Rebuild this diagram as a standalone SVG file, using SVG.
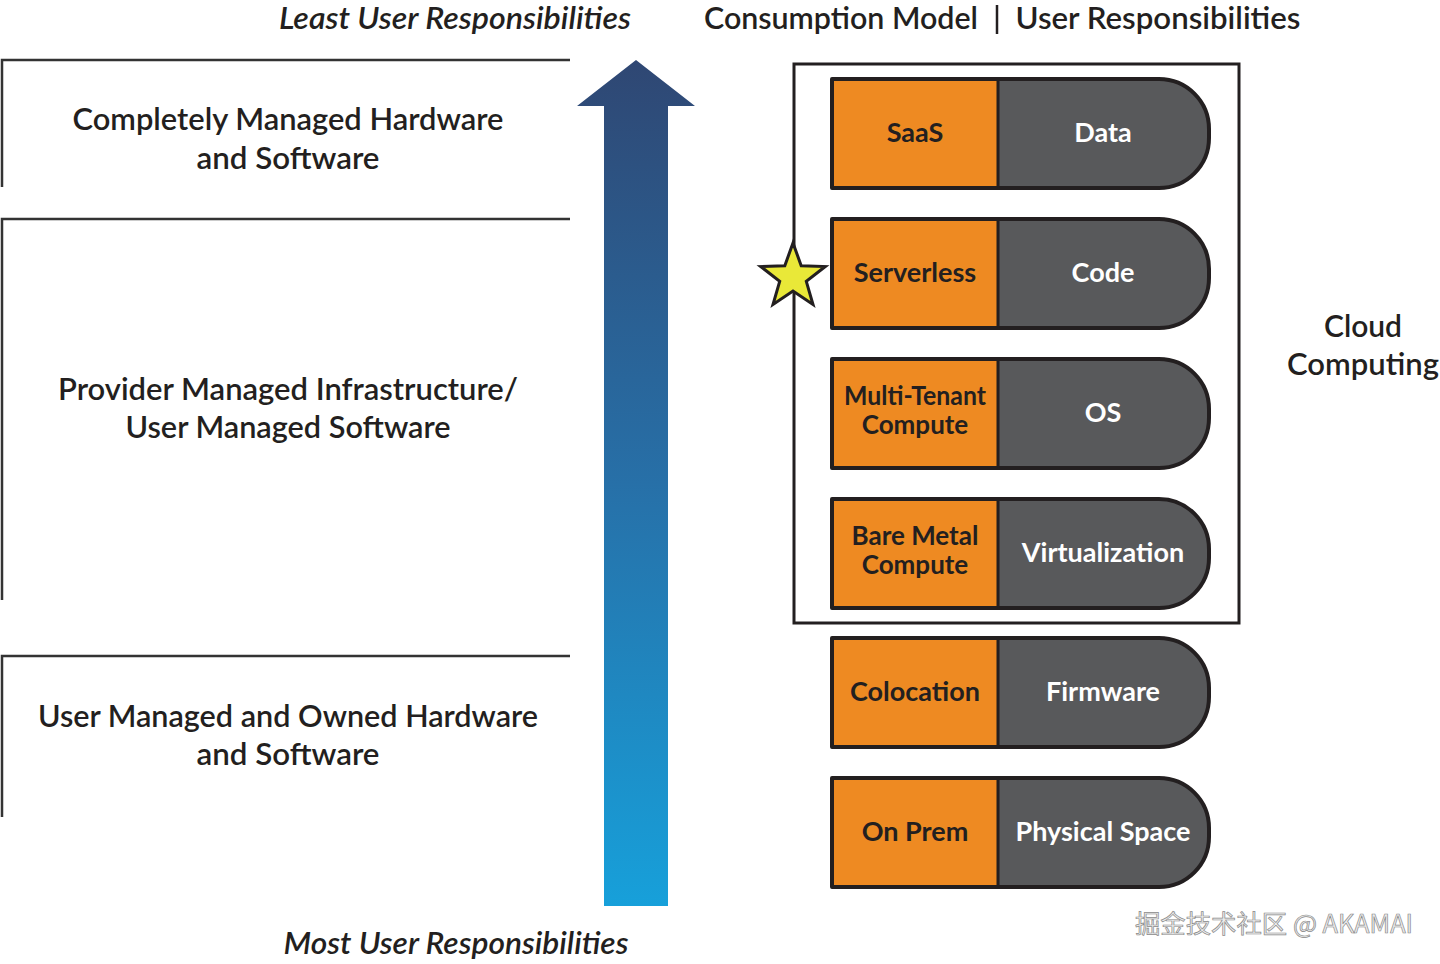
<svg xmlns="http://www.w3.org/2000/svg" width="1440" height="964" viewBox="0 0 1440 964">
<defs>
<linearGradient id="arrowGrad" x1="0" y1="0" x2="0" y2="1">
<stop offset="0" stop-color="#2f4773"/>
<stop offset="0.5" stop-color="#2770a8"/>
<stop offset="1" stop-color="#17a0da"/>
</linearGradient>
<style>
.t{font-family:Lato,"Noto Sans","Liberation Sans",sans-serif;font-weight:700;fill:#231f20;text-anchor:middle}
.h{font-size:30px;font-weight:600}
.i{font-style:italic}
.pl{font-size:27px}
.pl2{font-size:26px}
.pw{fill:#ffffff}
.br{fill:none;stroke:#333333;stroke-width:2.5}
.pillg{fill:#58595b}
.pillo{fill:#ee8a22}
.pillst{fill:none;stroke:#231f20;stroke-width:4;stroke-linejoin:round}
.wm{font-family:"Noto Sans CJK SC","Noto Sans",sans-serif;font-size:25px;fill:#ededed;stroke:#8a8a8a;stroke-width:0.7;text-anchor:start}
</style>
<path id="pill" d="M0,0 H327 A50,50 0 0 1 377,50 V59 A50,50 0 0 1 327,109 H0 Z"/>
</defs>
<rect x="0" y="0" width="1440" height="964" fill="#ffffff"/>

<g id="header-least">
<text class="t h i" x="455" y="29" textLength="352" lengthAdjust="spacingAndGlyphs">Least User Responsibilities</text>
</g>
<g id="header-model">
<text class="t h" x="841" y="29" textLength="274" lengthAdjust="spacingAndGlyphs">Consumption Model</text>
<line x1="997" y1="5" x2="997" y2="34" stroke="#231f20" stroke-width="2.5"/>
<text class="t h" x="1158" y="29" textLength="285" lengthAdjust="spacingAndGlyphs">User Responsibilities</text>
</g>

<g id="tier-top">
<path class="br" d="M570,60 H2 V187"/>
<text class="t h" x="288" y="130" textLength="431" lengthAdjust="spacingAndGlyphs">Completely Managed Hardware</text>
<text class="t h" x="288" y="169" textLength="183" lengthAdjust="spacingAndGlyphs">and Software</text>
</g>
<g id="tier-mid">
<path class="br" d="M570,219 H2 V600"/>
<text class="t h" x="288" y="400" textLength="460" lengthAdjust="spacingAndGlyphs">Provider Managed Infrastructure/</text>
<text class="t h" x="288" y="438" textLength="325" lengthAdjust="spacingAndGlyphs">User Managed Software</text>
</g>
<g id="tier-bottom">
<path class="br" d="M570,656 H2 V817"/>
<text class="t h" x="288" y="727" textLength="500" lengthAdjust="spacingAndGlyphs">User Managed and Owned Hardware</text>
<text class="t h" x="288" y="765" textLength="183" lengthAdjust="spacingAndGlyphs">and Software</text>
</g>

<g id="arrow">
<path d="M636,60 L695,106 H668 V906 H604 V106 H577 Z" fill="url(#arrowGrad)"/>
</g>

<g id="footer-most">
<text class="t h i" x="456" y="954" textLength="345" lengthAdjust="spacingAndGlyphs">Most User Responsibilities</text>
</g>

<g id="cloud-box">
<rect x="794" y="64" width="445" height="559" fill="none" stroke="#231f20" stroke-width="3"/>
</g>
<g id="cloud-label">
<text class="t h" x="1363" y="337">Cloud</text>
<text class="t h" x="1363" y="375" textLength="152" lengthAdjust="spacingAndGlyphs">Computing</text>
</g>

<g id="star">
<polygon points="793,243 801.2,265.7 825.3,266.5 806.3,281.3 813,304.5 793,291 773,304.5 779.7,281.3 760.7,266.5 784.8,265.7" fill="#e9e838" stroke="#231f20" stroke-width="3" stroke-linejoin="miter"/>
</g>

<g id="connectors"></g>

<g id="row-saas" transform="translate(832,79)">
<use href="#pill" class="pillg"/>
<rect class="pillo" x="0" y="0" width="166" height="109"/>
<line x1="166" y1="0" x2="166" y2="109" stroke="#231f20" stroke-width="3"/>
<use href="#pill" class="pillst"/>
<text class="t pl" x="83" y="63">SaaS</text>
<text class="t pl pw" x="271" y="63">Data</text>
</g>
<g id="row-serverless" transform="translate(832,219)">
<use href="#pill" class="pillg"/>
<rect class="pillo" x="0" y="0" width="166" height="109"/>
<line x1="166" y1="0" x2="166" y2="109" stroke="#231f20" stroke-width="3"/>
<use href="#pill" class="pillst"/>
<text class="t pl" x="83" y="63">Serverless</text>
<text class="t pl pw" x="271" y="63">Code</text>
</g>
<g id="row-multitenant" transform="translate(832,359)">
<use href="#pill" class="pillg"/>
<rect class="pillo" x="0" y="0" width="166" height="109"/>
<line x1="166" y1="0" x2="166" y2="109" stroke="#231f20" stroke-width="3"/>
<use href="#pill" class="pillst"/>
<text class="t pl2" x="83" y="46" textLength="142" lengthAdjust="spacingAndGlyphs">Multi-Tenant</text>
<text class="t pl2" x="83" y="75">Compute</text>
<text class="t pl pw" x="271" y="63">OS</text>
</g>
<g id="row-baremetal" transform="translate(832,499)">
<use href="#pill" class="pillg"/>
<rect class="pillo" x="0" y="0" width="166" height="109"/>
<line x1="166" y1="0" x2="166" y2="109" stroke="#231f20" stroke-width="3"/>
<use href="#pill" class="pillst"/>
<text class="t pl2" x="83" y="46">Bare Metal</text>
<text class="t pl2" x="83" y="75">Compute</text>
<text class="t pl pw" x="271" y="63">Virtualization</text>
</g>
<g id="row-colocation" transform="translate(832,638)">
<use href="#pill" class="pillg"/>
<rect class="pillo" x="0" y="0" width="166" height="109"/>
<line x1="166" y1="0" x2="166" y2="109" stroke="#231f20" stroke-width="3"/>
<use href="#pill" class="pillst"/>
<text class="t pl" x="83" y="63">Colocation</text>
<text class="t pl pw" x="271" y="63">Firmware</text>
</g>
<g id="row-onprem" transform="translate(832,778)">
<use href="#pill" class="pillg"/>
<rect class="pillo" x="0" y="0" width="166" height="109"/>
<line x1="166" y1="0" x2="166" y2="109" stroke="#231f20" stroke-width="3"/>
<use href="#pill" class="pillst"/>
<text class="t pl" x="83" y="63">On Prem</text>
<text class="t pl pw" x="271" y="63">Physical Space</text>
</g>

<g id="watermark">
<text class="wm" x="1135" y="933" textLength="278" lengthAdjust="spacingAndGlyphs">掘金技术社区 @ AKAMAI</text>
</g>
</svg>
